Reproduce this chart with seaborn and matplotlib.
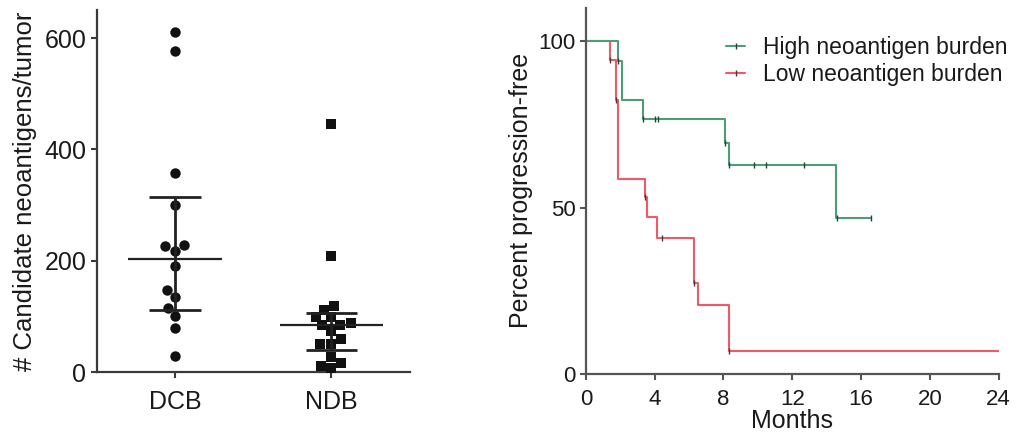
import numpy as np
import pandas as pd
import seaborn as sns
from matplotlib import pyplot as plt
from matplotlib.lines import Line2D

sns.set_style('ticks')
plt.rcParams['font.family'] = ['Liberation Sans', 'DejaVu Sans']
plt.rcParams['text.color'] = '#1a1a1a'
plt.rcParams['axes.labelcolor'] = '#1a1a1a'
plt.rcParams['xtick.labelcolor'] = '#1a1a1a'
plt.rcParams['ytick.labelcolor'] = '#1a1a1a'

# left panel: candidate neoantigens per tumor
dcb_vals = [610, 576, 358, 300, 228, 226, 217, 190, 147, 135, 115, 100, 79, 29]
ndb_vals = [445, 208, 118, 112, 99, 99, 89, 84, 85, 74, 59, 50, 50, 28, 17, 8, 11]
groups = ['DCB', 'NDB']

# right panel: Kaplan-Meier steps
high_t = [0, 1.88, 2.07, 3.30, 8.08, 8.33, 14.53, 16.6]
high_s = [100, 94.1, 82.4, 76.5, 69.5, 62.8, 47.0, 47.0]
high_cens_t = [1.88, 3.30, 4.0, 4.2, 8.08, 8.33, 9.79, 10.45, 12.67, 14.6, 16.6]
high_cens_s = [94.1, 76.5, 76.5, 76.5, 69.5, 62.8, 62.8, 62.8, 62.8, 47.0, 47.0]

low_t = [0, 1.40, 1.74, 1.88, 3.43, 3.53, 4.11, 6.30, 6.53, 8.33, 24]
low_s = [100, 94.4, 82.4, 58.7, 53.2, 47.2, 41.0, 27.2, 20.7, 6.9, 6.9]
low_cens_t = [1.40, 1.74, 3.43, 4.4, 6.30, 8.33]
low_cens_s = [94.4, 82.4, 53.2, 41.0, 27.2, 6.9]

green = '#4a9e78'
red = '#ee5a68'
axis_col = '#3a3a3a'

fig = plt.figure(figsize=(10.19, 4.43), dpi=100)
ax1 = fig.add_axes([0.095, 0.160, 0.307, 0.817])
ax2 = fig.add_axes([0.575, 0.156, 0.405, 0.826])

# ---- scatter with median and interquartile range
df_dcb = pd.DataFrame({'group': 'DCB', 'value': dcb_vals})
df_ndb = pd.DataFrame({'group': 'NDB', 'value': ndb_vals})
sns.swarmplot(data=df_dcb, x='group', y='value', order=groups, ax=ax1,
              color='#111111', marker='o', size=7.5)
sns.swarmplot(data=df_ndb, x='group', y='value', order=groups, ax=ax1,
              color='#111111', marker='s', size=7.5)

for i, vals in enumerate([dcb_vals, ndb_vals]):
    q1, med, q3 = np.percentile(vals, [25, 50, 75], method='weibull')
    half = 0.30 if i == 0 else 0.33
    ax1.hlines(med, i - half, i + half, color='#222222', lw=1.6, zorder=5)
    ax1.hlines([q1, q3], i - 0.165, i + 0.165, color='#222222', lw=2.0, zorder=5)
    ax1.vlines(i, q1, q3, color='#222222', lw=2.0, zorder=5)

ax1.set_xlim(-0.5, 1.5)
ax1.set_ylim(0, 650)
ax1.set_yticks([0, 200, 400, 600])
ax1.set_xlabel('')
ax1.set_ylabel('# Candidate neoantigens/tumor', fontsize=18.5, labelpad=5)
ax1.tick_params(labelsize=18, length=4, width=1.5, color=axis_col)
ax1.tick_params(axis='x', pad=9)
sns.despine(ax=ax1)
for s in ['left', 'bottom']:
    ax1.spines[s].set_linewidth(1.6)
    ax1.spines[s].set_color(axis_col)

# ---- progression-free survival
sns.lineplot(x=low_t, y=low_s, ax=ax2, color=red, lw=1.5,
             drawstyle='steps-post', estimator=None)
sns.lineplot(x=high_t, y=high_s, ax=ax2, color=green, lw=1.5,
             drawstyle='steps-post', estimator=None)
ax2.scatter(low_cens_t, low_cens_s, marker='|', s=14, color='#553333', lw=1, zorder=4)
ax2.scatter(high_cens_t, high_cens_s, marker='|', s=14, color='#224433', lw=1, zorder=4)

ax2.set_xlim(0, 24)
ax2.set_ylim(0, 110)
ax2.set_xticks([0, 4, 8, 12, 16, 20, 24])
ax2.set_yticks([0, 50, 100])
ax2.set_xlabel('Months', fontsize=18, labelpad=-1)
ax2.set_ylabel('Percent progression-free', fontsize=18, labelpad=4)
ax2.tick_params(labelsize=16, length=4, width=1.5, color='#555555')
ax2.tick_params(axis='x', pad=7)
sns.despine(ax=ax2)
for s in ['left', 'bottom']:
    ax2.spines[s].set_linewidth(1.6)
    ax2.spines[s].set_color('#555555')

handles = [Line2D([0], [0], color=green, lw=1.5, marker='|', markersize=4,
                  markeredgecolor='#224433'),
           Line2D([0], [0], color=red, lw=1.5, marker='|', markersize=4,
                  markeredgecolor='#553333')]
fig.legend(handles, ['High neoantigen burden', 'Low neoantigen burden'],
           loc='upper right', bbox_to_anchor=(1.0, 0.945), frameon=False,
           fontsize=16.5, handlelength=0.8, handletextpad=0.8, labelspacing=0.2,
           borderaxespad=0.1)

fig.savefig('out.png', dpi=100)
